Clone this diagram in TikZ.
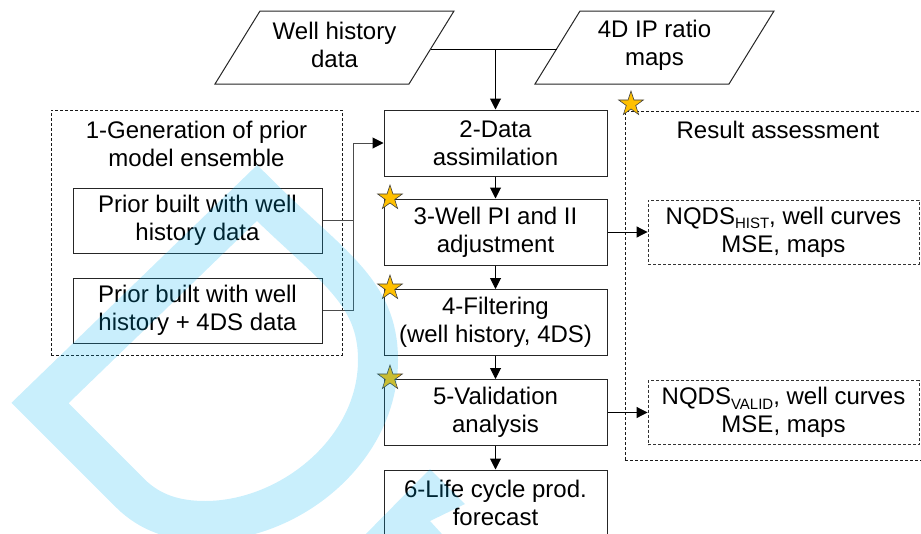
\documentclass[tikz,border=0pt]{standalone}
\usepackage{fontspec}
\setmainfont{Liberation Sans}
\usetikzlibrary{arrows.meta,shapes.geometric}
\definecolor{wmblue}{RGB}{0,179,242}
\definecolor{stargold}{RGB}{255,192,0}
\newcommand\lowsub[1]{\raisebox{-4.5pt}{\fontsize{15}{15}\selectfont #1}}
\begin{document}
\begin{tikzpicture}[x=1pt,y=-1pt,
  every node/.style={font=\fontsize{24}{28}\selectfont, align=center, text=black},
  box/.style={draw=black!85, line width=1pt, fill=white, minimum width=223pt, minimum height=66pt, inner sep=0pt},
  priorbox/.style={draw=black!85, line width=1pt, fill=white, minimum width=249pt, minimum height=65pt, inner sep=0pt},
  resbox/.style={draw=black!80, line width=0.9pt, dash pattern=on 3pt off 2pt, minimum width=271pt, minimum height=64pt, inner sep=0pt},
  groupbox/.style={draw=black!90, line width=0.9pt, dash pattern=on 3pt off 2pt, inner sep=0pt},
  para/.style={draw=black!85, line width=1pt, fill=white},
  starnode/.style={star, star points=5, star point ratio=2.618, minimum size=26pt, inner sep=0pt, fill=stargold, draw=black!75, line width=0.6pt},
  arr/.style={draw=black, line width=1pt, -{Triangle[length=11pt,width=11pt]}},
  conn/.style={draw=black, line width=1pt},
  garr/.style={draw=black!70, line width=1pt, -{Triangle[length=11pt,width=11pt,color=black]}},
  gline/.style={draw=black!70, line width=1pt},
  wm/.style={draw=wmblue, draw opacity=0.21, line width=40pt, line join=miter},
  wmfill/.style={fill=wmblue, fill opacity=0.21}
]
\useasboundingbox (0,0) rectangle (921,533);
\clip (0,0) rectangle (921,533);

% group frames
\node[groupbox, minimum width=291pt, minimum height=245pt] (g1) at (196.5,232.5) {};
\node[groupbox, minimum width=310pt, minimum height=349pt] (g2) at (780,285.5) {};
\node (t1) at (196.5,144) {1-Generation of prior\\model ensemble};
\node (t2) at (778,130) {Result assessment};

% input parallelograms
\draw[para] (215,84) -- (260,11) -- (454,11) -- (409,84) -- cycle;
\draw[para] (535,84) -- (580,11) -- (774,11) -- (729,84) -- cycle;
\node (p1) at (334.5,45) {Well history\\data};
\node (p2) at (654.5,45) {4D IP ratio\\maps};
\coordinate (p1r) at (430.6,49);
\coordinate (p2l) at (556.6,49);
\coordinate (jt) at (495.5,49);

% main chain
\node[box] (b2) at (495.5,143) {2-Data\\assimilation};
\node[box] (b3) at (495.5,232) {3-Well PI and II\\adjustment};
\node[box] (b4) at (495.5,322.5) {4-Filtering\\(well history, 4DS)};
\node[box] (b5) at (495.5,412.5) {5-Validation\\analysis};
\node[box] (b6) at (495.5,503) {6-Life cycle prod.\\forecast};

% prior boxes
\node[priorbox] (pr1) at (197.5,220.5) {Prior built with well\\history data};
\node[priorbox] (pr2) at (197.5,310.5) {Prior built with well\\history + 4DS data};
\coordinate (jx) at (353,0);

% result boxes
\node[resbox] (nq1) at (783.5,232) {NQDS\lowsub{HIST}, well curves\\MSE, maps};
\node[resbox] (nq2) at (783.5,412.5) {NQDS\lowsub{VALID}, well curves\\MSE, maps};

% connectors
\draw[conn] (p1r) -- (p2l);
\draw[arr] (jt) -- (b2.north);
\draw[gline] (pr1.east) -- (pr1.east -| jx);
\draw[garr] (pr2.east) -| (jx |- b2.west) -- (b2.west);
\draw[arr] (b2.south) -- (b3.north);
\draw[arr] (b3.south) -- (b4.north);
\draw[arr] (b4.south) -- (b5.north);
\draw[arr] (b5.south) -- (b6.north);
\draw[arr] (b3.east) -- (nq1.west);
\draw[arr] (b5.east) -- (nq2.west);

% stars
\node[starnode] (s1) at (631,104) {};
\node[starnode] (s3) at (390,198) {};
\node[starnode] (s4) at (390,288) {};
\node[starnode] (s5) at (390,378) {};

% watermark
\draw[wm] (40,403) -- (257,193) .. controls (330,266) and (378,290) .. (378,360)
  .. controls (378,450) and (290,521) .. (205,521)
  .. controls (175,521) and (150,513) .. (130,493) -- cycle;
\fill[wmfill] (355,545) -- (430,469) -- (465,504) -- (430,521) -- (452,545) -- cycle;
\end{tikzpicture}
\end{document}
